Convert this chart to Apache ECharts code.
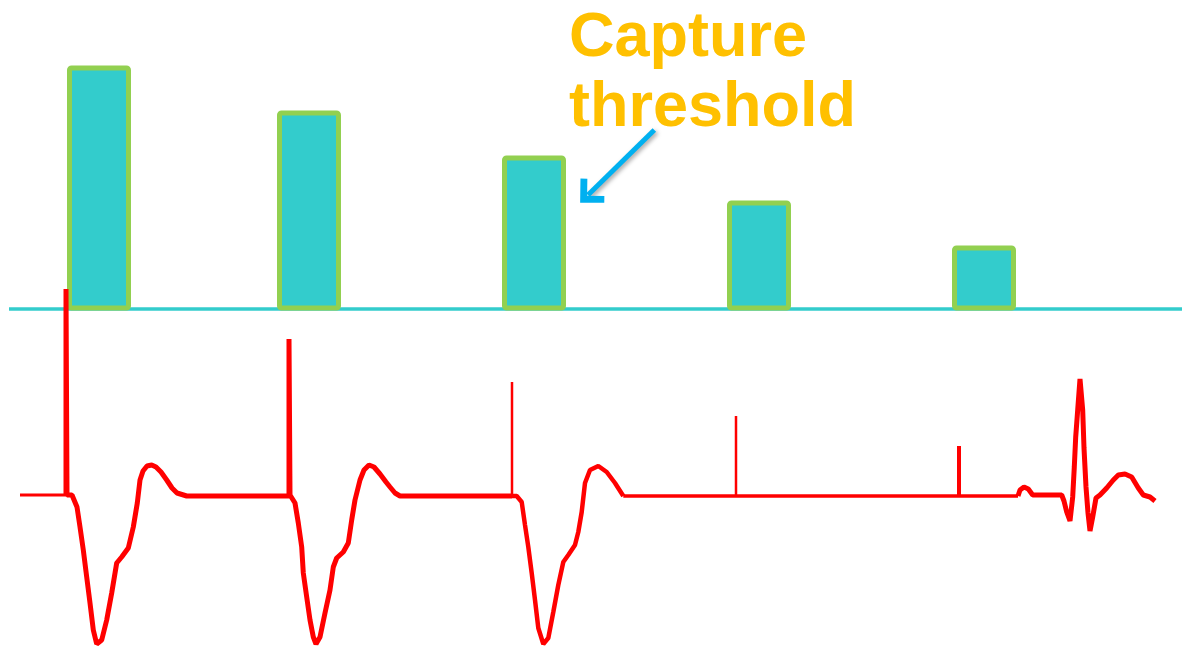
<!DOCTYPE html>
<html>
<head>
<meta charset="utf-8">
<script src="https://cdn.jsdelivr.net/npm/echarts@6/dist/echarts.min.js"></script>
<style>
  html, body { margin: 0; padding: 0; background: #ffffff; }
  #chart { width: 1182px; height: 650px; }
</style>
</head>
<body>
<div id="chart"></div>
<script>
// ---- Pacing output (upper panel) ----
const pulseTimes = [99, 309, 534, 759, 984];
const pulseAmplitudes = [4.9, 4.0, 3.1, 2.2, 1.3];
const outputBaseline = [[9, 0.03], [1182, 0.03]];

// ---- Annotation ----
const annotationText = 'Capture\nthreshold';
const arrowFrom = [654.3, 3.61];
const arrowTo = [588, 2.31];

// ---- ECG trace (lower panel), [time, mV] ----
const ecgLeadIn = [[20, 0], [66, 0]];
const ecgPacedBeats12 = [
  [66, 0], [66, 2.06], [67, 2.06], [67, 0], [72, 0], [77, -0.12], [80, -0.32], [83.3, -0.55],
  [86.7, -0.82], [90, -1.08], [93.3, -1.35], [96.7, -1.49], [101.7, -1.45], [106.7, -1.25],
  [111.7, -0.98], [116.7, -0.68], [121.7, -0.62], [128.3, -0.53], [133.3, -0.32], [137.3, -0.08],
  [140, 0.15], [143, 0.24], [147, 0.29], [151.7, 0.3], [156, 0.28], [161, 0.23], [166.7, 0.15],
  [172, 0.07], [177, 0.02], [186.7, -0.01],
  [289, -0.01], [289, 1.56], [290, 1.56], [290, 0], [295, -0.08], [298.3, -0.28], [301.7, -0.52],
  [303.3, -0.78], [306.7, -1.02], [310, -1.25], [313.3, -1.42], [316, -1.49], [320, -1.42],
  [325, -1.18], [330, -0.95], [333.3, -0.72], [336.7, -0.63], [343.3, -0.57], [348.3, -0.48],
  [351.7, -0.25], [355, -0.05], [360, 0.15], [364, 0.25], [369, 0.3], [374, 0.28], [380, 0.21],
  [386, 0.13], [390, 0.08], [395, 0.02], [400, -0.01], [512, -0.01]
];
const ecgSpike3 = [[512, 0], [512, 1.13]];
const ecgPacedBeat3 = [
  [512, -0.01], [516.7, -0.01], [521.7, -0.07], [525, -0.3], [528.3, -0.52], [531.7, -0.78],
  [535, -1.05], [538.3, -1.33], [543.3, -1.49], [548.3, -1.43], [553.3, -1.17], [558.3, -0.9],
  [563.3, -0.67], [568.3, -0.6], [575, -0.5], [578.3, -0.37], [581.7, -0.17], [585, 0.12],
  [590, 0.25], [598.3, 0.29], [606.7, 0.23], [615, 0.12], [623.3, -0.01]
];
const ecgNoCapture = [[623.3, -0.01], [1018, -0.01]];
const ecgSpike4 = [[736, -0.01], [736, 0.79]];
const ecgSpike5 = [[959, -0.01], [959, 0.49]];
const ecgNativeBeat = [
  [1018, -0.01], [1020, 0.05], [1024, 0.08], [1028.3, 0.06], [1032.7, 0], [1061.7, 0],
  [1064, -0.06], [1066.7, -0.17], [1070, -0.26], [1072.7, -0.02], [1074.3, 0.28], [1075.7, 0.58],
  [1077.7, 0.85], [1080, 1.16], [1082.7, 0.85], [1084, 0.47], [1086, 0.08], [1088, -0.18],
  [1090, -0.36], [1092.7, -0.22], [1096, -0.03], [1100, 0], [1106.7, 0.07], [1113.3, 0.15],
  [1118.3, 0.2], [1125, 0.21], [1131.7, 0.18], [1138.3, 0.07], [1143.3, 0], [1150, -0.02],
  [1155, -0.06]
];

const RED = '#FF0000';
function ecgSeries(data, width) {
  return {
    type: 'line', xAxisIndex: 1, yAxisIndex: 1, data: data,
    symbol: 'none', clip: false, animation: false, silent: true, z: 6,
    lineStyle: { color: RED, width: width, join: 'bevel' }
  };
}

const chart = echarts.init(document.getElementById('chart'), null, { renderer: 'canvas' });
chart.setOption({
  backgroundColor: '#ffffff',
  animation: false,
  title: {
    text: annotationText,
    left: 569, top: 4, padding: 0,
    textStyle: {
      fontFamily: 'Liberation Sans', fontWeight: 'bold', fontSize: 63,
      lineHeight: 70, color: '#FFC000'
    }
  },
  grid: [
    { left: 0, right: 0, top: 10.5, height: 300 },
    { left: 0, right: 0, top: 280, height: 370 }
  ],
  xAxis: [
    { type: 'value', gridIndex: 0, min: 0, max: 1182, show: false },
    { type: 'value', gridIndex: 1, min: 0, max: 1182, show: false }
  ],
  yAxis: [
    { type: 'value', gridIndex: 0, min: 0, max: 6, show: false },
    { type: 'value', gridIndex: 1, min: -1.55, max: 2.15, show: false }
  ],
  series: [
    {
      type: 'line', xAxisIndex: 0, yAxisIndex: 0, data: outputBaseline,
      symbol: 'none', clip: false, silent: true, z: 1,
      lineStyle: { color: '#33CCCC', width: 3.4 },
      markLine: {
        silent: true, symbol: ['none', 'path://M0,0 L14,14 L10,18 L0,8 L-10,18 L-14,14 Z'],
        symbolSize: [34, 22],
        label: { show: false },
        lineStyle: {
          color: '#00B0F0', width: 5, type: 'solid',
          shadowColor: 'rgba(0,0,0,0.35)', shadowBlur: 4, shadowOffsetX: 2, shadowOffsetY: 2
        },
        itemStyle: { color: '#00B0F0' },
        data: [[{ coord: arrowFrom }, { coord: arrowTo }]]
      }
    },
    {
      type: 'bar', xAxisIndex: 0, yAxisIndex: 0,
      data: pulseTimes.map((t, i) => [t, pulseAmplitudes[i]]),
      barWidth: 64, z: 2, silent: true,
      itemStyle: { color: '#33CCCC', borderColor: '#92D050', borderWidth: 5, borderRadius: 2 }
    },
    ecgSeries(ecgLeadIn, 3),
    ecgSeries(ecgPacedBeats12, 5),
    ecgSeries(ecgSpike3, 2.5),
    ecgSeries(ecgPacedBeat3, 4.5),
    ecgSeries(ecgNoCapture, 3.5),
    ecgSeries(ecgSpike4, 2.5),
    ecgSeries(ecgSpike5, 4),
    ecgSeries(ecgNativeBeat, 5)
  ]
});
</script>
</body>
</html>
